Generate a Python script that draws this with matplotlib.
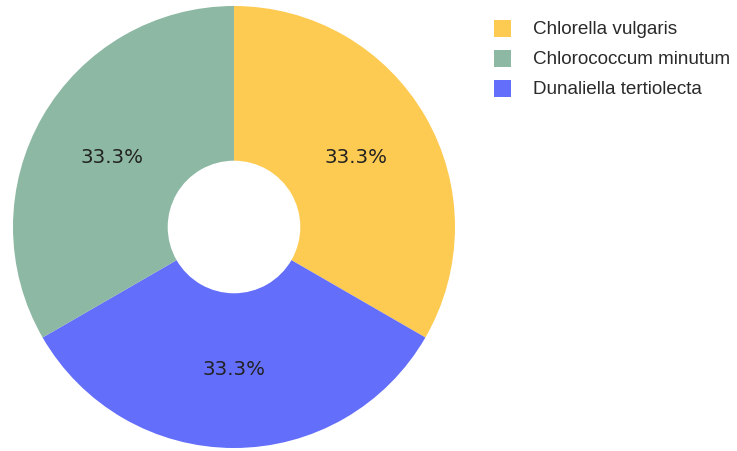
import matplotlib
matplotlib.use("Agg")
import matplotlib.pyplot as plt
from matplotlib.patches import Rectangle

categories = ["Chlorella vulgaris", "Chlorococcum minutum", "Dunaliella tertiolecta"]
values = [1, 1, 1]
colors = ["#FECB52", "#8DB8A3", "#636EFA"]

# clockwise drawing order from 12 o'clock: Chlorella, Dunaliella, Chlorococcum
order = [0, 2, 1]

W, H = 737, 452
fig = plt.figure(figsize=(W / 100, H / 100), dpi=100)
cx, cy, R = 234, 228, 221
ax = fig.add_axes([(cx - R) / W, (H - cy - R) / H, 2 * R / W, 2 * R / H])

wedges, texts, autotexts = ax.pie(
    [values[i] for i in order],
    colors=[colors[i] for i in order],
    startangle=90,
    counterclock=False,
    radius=1,
    autopct="%1.1f%%",
    pctdistance=0.64,
    wedgeprops=dict(width=0.70, linewidth=0),
    textprops=dict(fontsize=14.3, color="#222222", family="DejaVu Sans"),
)
ax.set_xlim(-1, 1)
ax.set_ylim(-1, 1)
ax.set_aspect("equal")
ax.axis("off")

# legend
sq = 17
x0 = 494
row_y = [29, 59, 89]
for i, name in enumerate(categories):
    y = row_y[i]
    fig.patches.append(Rectangle((x0 / W, (H - y - sq / 2) / H), sq / W, sq / H,
                                 transform=fig.transFigure, facecolor=colors[i],
                                 edgecolor="none"))
    fig.text(533 / W, (H - y) / H, name, fontsize=13.6, family="Liberation Sans",
             color="#2a2a2a", va="center", ha="left")

fig.savefig("out.png", dpi=100)
